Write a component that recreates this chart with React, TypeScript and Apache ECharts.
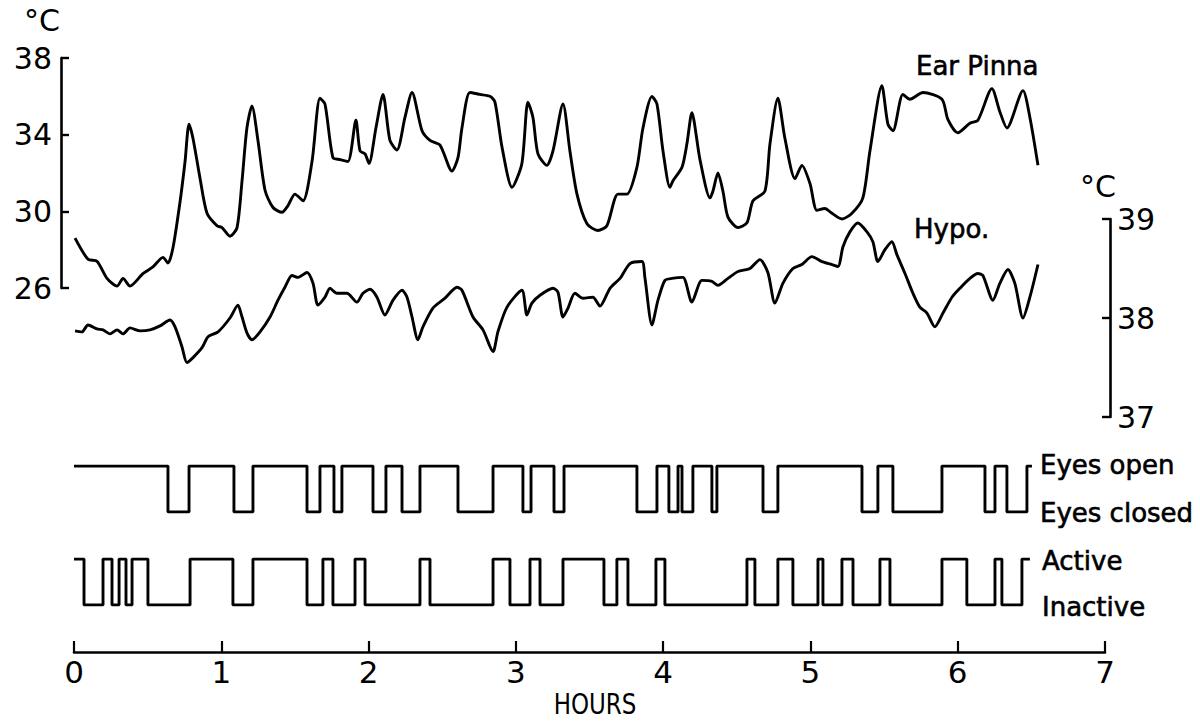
import React, { useEffect, useRef } from "react";
import * as echarts from "echarts";

// Ear pinna temperature (°C, left scale) vs time (hours)
const earHours = [0.007, 0.095, 0.156, 0.224, 0.292, 0.333, 0.380, 0.468, 0.536, 0.604, 0.638, 0.672, 0.720, 0.754, 0.781, 0.808, 0.855, 0.903, 0.971, 1.005, 1.059, 1.107, 1.141, 1.174, 1.208, 1.249, 1.297, 1.351, 1.412, 1.453, 1.500, 1.555, 1.616, 1.670, 1.704, 1.758, 1.806, 1.860, 1.914, 1.942, 1.976, 2.003, 2.050, 2.098, 2.145, 2.193, 2.247, 2.295, 2.363, 2.417, 2.485, 2.566, 2.607, 2.634, 2.688, 2.756, 2.824, 2.858, 2.906, 2.974, 3.041, 3.082, 3.116, 3.150, 3.211, 3.252, 3.320, 3.367, 3.415, 3.483, 3.557, 3.618, 3.693, 3.754, 3.822, 3.863, 3.924, 3.958, 3.999, 4.046, 4.067, 4.128, 4.162, 4.195, 4.250, 4.318, 4.338, 4.372, 4.406, 4.440, 4.508, 4.569, 4.610, 4.691, 4.725, 4.779, 4.827, 4.895, 4.942, 4.997, 5.044, 5.098, 5.146, 5.214, 5.282, 5.356, 5.404, 5.485, 5.526, 5.560, 5.628, 5.675, 5.764, 5.893, 5.933, 6.001, 6.083, 6.137, 6.232, 6.286, 6.334, 6.443, 6.490, 6.545];
const earTemp = [28.6, 27.5, 27.4, 26.5, 26.1, 26.5, 26.1, 26.75, 27.1, 27.6, 27.3, 28.1, 30.5, 32.6, 34.55, 33.8, 31.75, 29.9, 29.25, 29.15, 28.7, 29.15, 31.6, 34.35, 35.5, 33.7, 31.1, 30.2, 29.95, 30.3, 30.9, 30.55, 32.6, 35.9, 35.6, 32.8, 32.7, 32.6, 34.75, 33.15, 33.0, 32.5, 34.35, 36.1, 33.7, 33.2, 34.9, 36.2, 34.2, 33.7, 33.45, 32.1, 32.8, 34.35, 36.2, 36.1, 36.0, 35.7, 33.35, 31.25, 32.5, 35.7, 34.9, 33.0, 32.4, 33.15, 35.6, 33.15, 30.9, 29.35, 29.0, 29.25, 30.9, 30.9, 32.3, 34.35, 36.0, 35.6, 33.15, 31.25, 31.6, 32.3, 33.55, 35.15, 32.7, 30.7, 31.05, 32.0, 31.05, 29.7, 29.15, 29.4, 30.55, 31.05, 33.5, 35.9, 33.8, 31.7, 32.4, 31.45, 30.05, 30.15, 29.9, 29.6, 29.9, 30.7, 33.15, 36.55, 34.55, 34.2, 36.1, 35.85, 36.2, 35.85, 34.8, 34.1, 34.6, 34.75, 36.4, 35.2, 34.35, 36.3, 34.9, 32.4];

// Hypothalamic temperature (°C, right scale)
const hypoHours = [0.007, 0.054, 0.095, 0.156, 0.197, 0.244, 0.292, 0.333, 0.380, 0.448, 0.516, 0.584, 0.652, 0.686, 0.733, 0.767, 0.808, 0.869, 0.910, 0.978, 1.059, 1.113, 1.141, 1.174, 1.208, 1.263, 1.331, 1.385, 1.432, 1.480, 1.521, 1.582, 1.623, 1.656, 1.704, 1.738, 1.785, 1.853, 1.921, 1.962, 2.010, 2.057, 2.111, 2.166, 2.227, 2.261, 2.295, 2.335, 2.369, 2.437, 2.519, 2.600, 2.634, 2.709, 2.777, 2.845, 2.878, 2.940, 3.041, 3.075, 3.109, 3.164, 3.252, 3.286, 3.320, 3.354, 3.401, 3.456, 3.523, 3.571, 3.639, 3.707, 3.775, 3.856, 3.876, 3.924, 3.965, 4.012, 4.060, 4.134, 4.195, 4.263, 4.331, 4.372, 4.440, 4.508, 4.589, 4.657, 4.711, 4.759, 4.813, 4.881, 4.942, 5.010, 5.078, 5.146, 5.187, 5.221, 5.268, 5.322, 5.384, 5.424, 5.458, 5.506, 5.553, 5.587, 5.642, 5.696, 5.743, 5.791, 5.845, 5.900, 5.961, 6.015, 6.083, 6.137, 6.171, 6.239, 6.286, 6.341, 6.388, 6.443, 6.490, 6.545];
const hypoTemp = [37.87, 37.86, 37.93, 37.89, 37.88, 37.84, 37.88, 37.84, 37.90, 37.87, 37.88, 37.92, 37.98, 37.91, 37.71, 37.55, 37.60, 37.70, 37.81, 37.86, 38.00, 38.13, 38.01, 37.85, 37.78, 37.86, 38.01, 38.18, 38.31, 38.43, 38.41, 38.46, 38.35, 38.13, 38.21, 38.30, 38.25, 38.25, 38.16, 38.25, 38.29, 38.21, 38.03, 38.18, 38.28, 38.21, 38.01, 37.78, 37.91, 38.10, 38.20, 38.31, 38.28, 38.01, 37.88, 37.66, 37.86, 38.11, 38.28, 38.03, 38.15, 38.23, 38.30, 38.26, 38.01, 38.10, 38.25, 38.20, 38.21, 38.12, 38.30, 38.40, 38.55, 38.57, 38.41, 37.93, 38.18, 38.38, 38.40, 38.41, 38.16, 38.38, 38.37, 38.33, 38.40, 38.47, 38.50, 38.59, 38.46, 38.15, 38.35, 38.50, 38.54, 38.62, 38.57, 38.54, 38.52, 38.72, 38.87, 38.96, 38.87, 38.77, 38.57, 38.69, 38.77, 38.64, 38.45, 38.25, 38.11, 38.05, 37.91, 38.05, 38.21, 38.30, 38.40, 38.45, 38.43, 38.18, 38.35, 38.49, 38.35, 38.00, 38.21, 38.54];

// Eyes: starts open (1), toggles at each time below
const eyesStartHour = 0;
const eyesStartState = 1;
const eyesSwitchHours = [0.638, 0.781, 1.086, 1.215, 1.582, 1.670, 1.765, 1.819, 2.030, 2.118, 2.227, 2.349, 2.607, 2.845, 3.048, 3.103, 3.259, 3.327, 3.822, 3.958, 4.039, 4.101, 4.128, 4.202, 4.331, 4.365, 4.678, 4.779, 5.350, 5.458, 5.560, 5.893, 6.185, 6.253, 6.334, 6.470];
const eyesEndHour = 6.504;

// Activity: starts active (1), toggles at each time below
const activeStartHour = 0;
const activeStartState = 1;
const activeSwitchHours = [0.068, 0.197, 0.258, 0.306, 0.353, 0.394, 0.502, 0.788, 1.079, 1.215, 1.582, 1.690, 1.758, 1.908, 1.976, 2.349, 2.417, 2.845, 2.960, 3.096, 3.164, 3.320, 3.598, 3.686, 3.761, 3.951, 4.012, 4.569, 4.623, 4.779, 4.881, 5.051, 5.085, 5.214, 5.289, 5.472, 5.540, 5.893, 6.062, 6.253, 6.300, 6.436];
const activeEndHour = 6.49;

const earTicks = [26, 30, 34, 38];
const hypoTicks = [37, 38, 39];
const hourTicks = [0, 1, 2, 3, 4, 5, 6, 7];

function pairs(xs: number[], ys: number[]) {
  return xs.map((x, i) => [x, ys[i]]);
}

function steps(start: number, state: number, switches: number[], end: number) {
  const pts: number[][] = [[start, state]];
  let s = state;
  for (const t of switches) {
    s = 1 - s;
    pts.push([t, s]);
  }
  pts.push([end, s]);
  return pts;
}

const NUM_FONT = "'DejaVu Sans', sans-serif";

export default function App() {
  const ref = useRef<HTMLDivElement>(null);
  useEffect(() => {
    if (!ref.current) return;
    const chart = echarts.init(ref.current, undefined, { renderer: "svg" });
    const L = 74;
    const W = 1031;
    const lineStyle = { color: "#000", width: 2.9 };
    const hiddenX = (gi: number) => ({
      type: "value",
      gridIndex: gi,
      min: 0,
      max: 7,
      show: false,
    });
    const hiddenY = (gi: number) => ({
      type: "value",
      gridIndex: gi,
      min: 0,
      max: 1,
      show: false,
    });
    const textStyle = (size: number) => ({
      font: `${size}px ${NUM_FONT}`,
      fill: "#000",
      stroke: "#000",
      lineWidth: 0.6,
      verticalAlign: "middle",
    });
    chart.setOption({
      animation: false,
      backgroundColor: "#fff",
      grid: [
        { left: L, width: W, top: 58, height: 230 },
        { left: L, width: W, top: 219, height: 198 },
        { left: L, width: W, top: 466, height: 46 },
        { left: L, width: W, top: 559, height: 46 },
      ],
      xAxis: [
        hiddenX(0),
        hiddenX(1),
        hiddenX(2),
        {
          type: "value",
          gridIndex: 3,
          min: 0,
          max: 7,
          interval: 1,
          offset: 47,
          axisLine: { show: true, onZero: false, lineStyle: { color: "#000", width: 2.6 } },
          axisTick: { show: true, inside: true, length: 11, lineStyle: { color: "#000", width: 2.2 } },
          axisLabel: {
            color: "#000",
            fontFamily: NUM_FONT,
            fontSize: 31,
            margin: 4,
            formatter: (v: number) => (hourTicks.includes(v) ? String(v) : ""),
          },
          splitLine: { show: false },
        },
      ],
      yAxis: [
        {
          type: "value",
          gridIndex: 0,
          position: "left",
          min: earTicks[0],
          max: earTicks[earTicks.length - 1],
          interval: 4,
          offset: 13,
          axisLine: { show: true, onZero: false, lineStyle: { color: "#000", width: 2.6 } },
          axisTick: { show: true, inside: true, length: 8, lineStyle: { color: "#000", width: 2.4 } },
          axisLabel: { color: "#000", fontFamily: NUM_FONT, fontSize: 30, margin: 9 },
          splitLine: { show: false },
        },
        {
          type: "value",
          gridIndex: 1,
          position: "right",
          min: hypoTicks[0],
          max: hypoTicks[hypoTicks.length - 1],
          interval: 1,
          offset: 5,
          axisLine: { show: true, onZero: false, lineStyle: { color: "#000", width: 2.6 } },
          axisTick: { show: true, inside: true, length: 8, lineStyle: { color: "#000", width: 2.4 } },
          axisLabel: { color: "#000", fontFamily: NUM_FONT, fontSize: 30, margin: 7 },
          splitLine: { show: false },
        },
        hiddenY(2),
        hiddenY(3),
      ],
      series: [
        {
          name: "Ear Pinna",
          type: "line",
          xAxisIndex: 0,
          yAxisIndex: 0,
          data: pairs(earHours, earTemp),
          showSymbol: false,
          smooth: 0.25,
          lineStyle,
        },
        {
          name: "Hypo.",
          type: "line",
          xAxisIndex: 1,
          yAxisIndex: 1,
          data: pairs(hypoHours, hypoTemp),
          showSymbol: false,
          smooth: 0.25,
          lineStyle,
        },
        {
          name: "Eyes",
          type: "line",
          xAxisIndex: 2,
          yAxisIndex: 2,
          step: "end",
          data: steps(eyesStartHour, eyesStartState, eyesSwitchHours, eyesEndHour),
          showSymbol: false,
          lineStyle,
        },
        {
          name: "Activity",
          type: "line",
          xAxisIndex: 3,
          yAxisIndex: 3,
          step: "end",
          data: steps(activeStartHour, activeStartState, activeSwitchHours, activeEndHour),
          showSymbol: false,
          lineStyle,
        },
      ],
      graphic: [
        { type: "text", left: 24, top: 5, style: { text: "°C", font: `30px ${NUM_FONT}`, fill: "#000" } },
        { type: "text", left: 1080, top: 171, style: { text: "°C", font: `30px ${NUM_FONT}`, fill: "#000" } },
        { type: "text", x: 916, y: 66, style: { text: "Ear Pinna", ...textStyle(26) } },
        { type: "text", x: 914, y: 229, style: { text: "Hypo.", ...textStyle(26) } },
        { type: "text", x: 1040, y: 465, style: { text: "Eyes open", ...textStyle(26) } },
        { type: "text", x: 1040, y: 513, style: { text: "Eyes closed", ...textStyle(26) } },
        { type: "text", x: 1042, y: 561, style: { text: "Active", ...textStyle(26) } },
        { type: "text", x: 1042, y: 607, style: { text: "Inactive", ...textStyle(26) } },
        { type: "text", x: 595, y: 704, scaleX: 0.82, style: { text: "HOURS", font: `28px ${NUM_FONT}`, fill: "#000", align: "center", verticalAlign: "middle" } },
      ],
    });
    return () => chart.dispose();
  }, []);
  return (
    <div
      ref={ref}
      style={{ position: "absolute", left: 0, top: 0, width: 1200, height: 721, background: "#fff" }}
    />
  );
}
